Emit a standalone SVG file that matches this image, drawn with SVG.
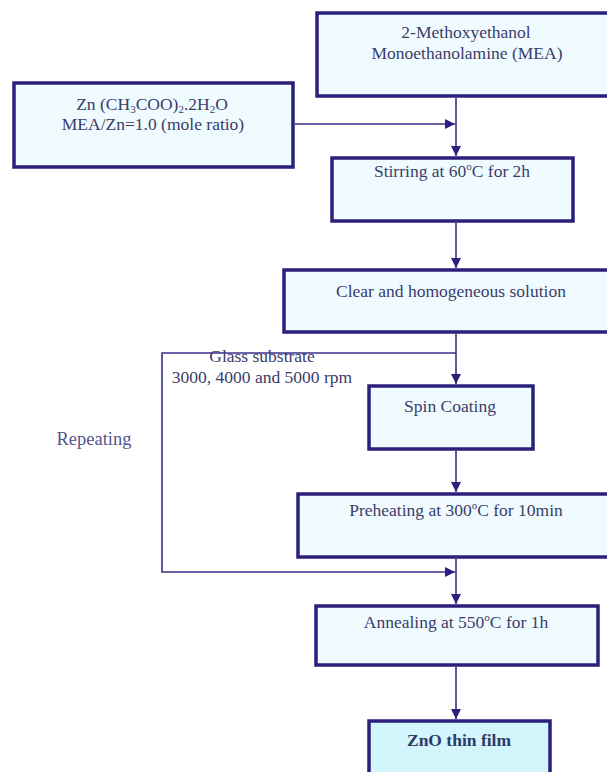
<svg xmlns="http://www.w3.org/2000/svg" width="607" height="772" viewBox="0 0 607 772">
<defs>
<style>
.box{fill:#effbff;stroke:#2b1f7c;stroke-width:3.5}
.shadow{fill:none;stroke:#9a96c4;stroke-width:2}
.t{font-family:"Liberation Serif","Times New Roman",serif;font-size:17.5px;fill:#3c3c6a;text-anchor:middle}
.c{fill:none;stroke:#3b2f8a;stroke-width:1.6}
.sub{font-size:11px}
</style>
<marker id="ah" viewBox="0 0 10 10" refX="10" refY="5" markerWidth="10" markerHeight="10" markerUnits="userSpaceOnUse" orient="auto">
<path d="M0,0 L10,5 L0,10 z" fill="#2b1f7c"/>
</marker>
</defs>
<rect width="607" height="772" fill="#ffffff"/>

<g id="connectors">
<line class="c" x1="456" y1="98" x2="456" y2="156" marker-end="url(#ah)"/>
<line class="c" x1="295" y1="124" x2="455" y2="124" marker-end="url(#ah)"/>
<line class="c" x1="456" y1="223" x2="456" y2="268" marker-end="url(#ah)"/>
<line class="c" x1="456" y1="334" x2="456" y2="384" marker-end="url(#ah)"/>
<polyline class="c" points="456,353 162,353 162,572 455,572" marker-end="url(#ah)"/>
<line class="c" x1="456" y1="451" x2="456" y2="492" marker-end="url(#ah)"/>
<line class="c" x1="456" y1="559" x2="456" y2="604" marker-end="url(#ah)"/>
<line class="c" x1="456" y1="667" x2="456" y2="719" marker-end="url(#ah)"/>
</g>

<g id="mea">
<rect class="box" x="317" y="13" width="300" height="83"/>
<text class="t" x="466" y="38">2-Methoxyethanol</text>
<text class="t" x="467" y="59">Monoethanolamine (MEA)</text>
</g>

<g id="zn">
<rect class="box" x="14" y="83" width="279" height="84"/>
<text class="t" x="152" y="110">Zn (CH<tspan class="sub" dy="3">3</tspan><tspan dy="-3">COO)</tspan><tspan class="sub" dy="3">2</tspan><tspan dy="-3">.2H</tspan><tspan class="sub" dy="3">2</tspan><tspan dy="-3">O</tspan></text>
<text class="t" x="153" y="130">MEA/Zn=1.0 (mole ratio)</text>
</g>

<g id="stirring">
<rect class="box" x="332" y="158" width="241" height="63"/>
<text class="t" x="452" y="177">Stirring at 60<tspan class="sub" dy="-7">o</tspan><tspan dy="7">C for 2h</tspan></text>
</g>

<g id="clear">
<rect class="box" x="284" y="270" width="333" height="62"/>
<text class="t" x="451" y="297">Clear and homogeneous solution</text>
</g>

<g id="substrate-label">
<text class="t" x="262" y="362">Glass substrate</text>
<text class="t" x="262" y="383">3000, 4000 and 5000 rpm</text>
</g>

<g id="repeating">
<text class="t" x="94" y="445" style="font-size:18.5px;fill:#55558c">Repeating</text>
</g>

<g id="spin">
<rect class="box" x="369" y="386" width="164" height="63"/>
<text class="t" x="450" y="412">Spin Coating</text>
</g>

<g id="preheating">
<rect class="box" x="298" y="494" width="319" height="63"/>
<text class="t" x="456" y="516">Preheating at 300<tspan class="sub" dy="-7">o</tspan><tspan dy="7">C for 10min</tspan></text>
</g>

<g id="annealing">
<rect class="box" x="316" y="606" width="282" height="59"/>
<text class="t" x="456" y="628">Annealing at 550<tspan class="sub" dy="-7">o</tspan><tspan dy="7">C for 1h</tspan></text>
</g>

<g id="zno">
<rect class="box" x="369" y="721" width="181" height="60" style="fill:#d2f6fc"/>
<text class="t" x="459" y="746" style="font-weight:bold;fill:#2e3a6a">ZnO thin film</text>
</g>
</svg>
